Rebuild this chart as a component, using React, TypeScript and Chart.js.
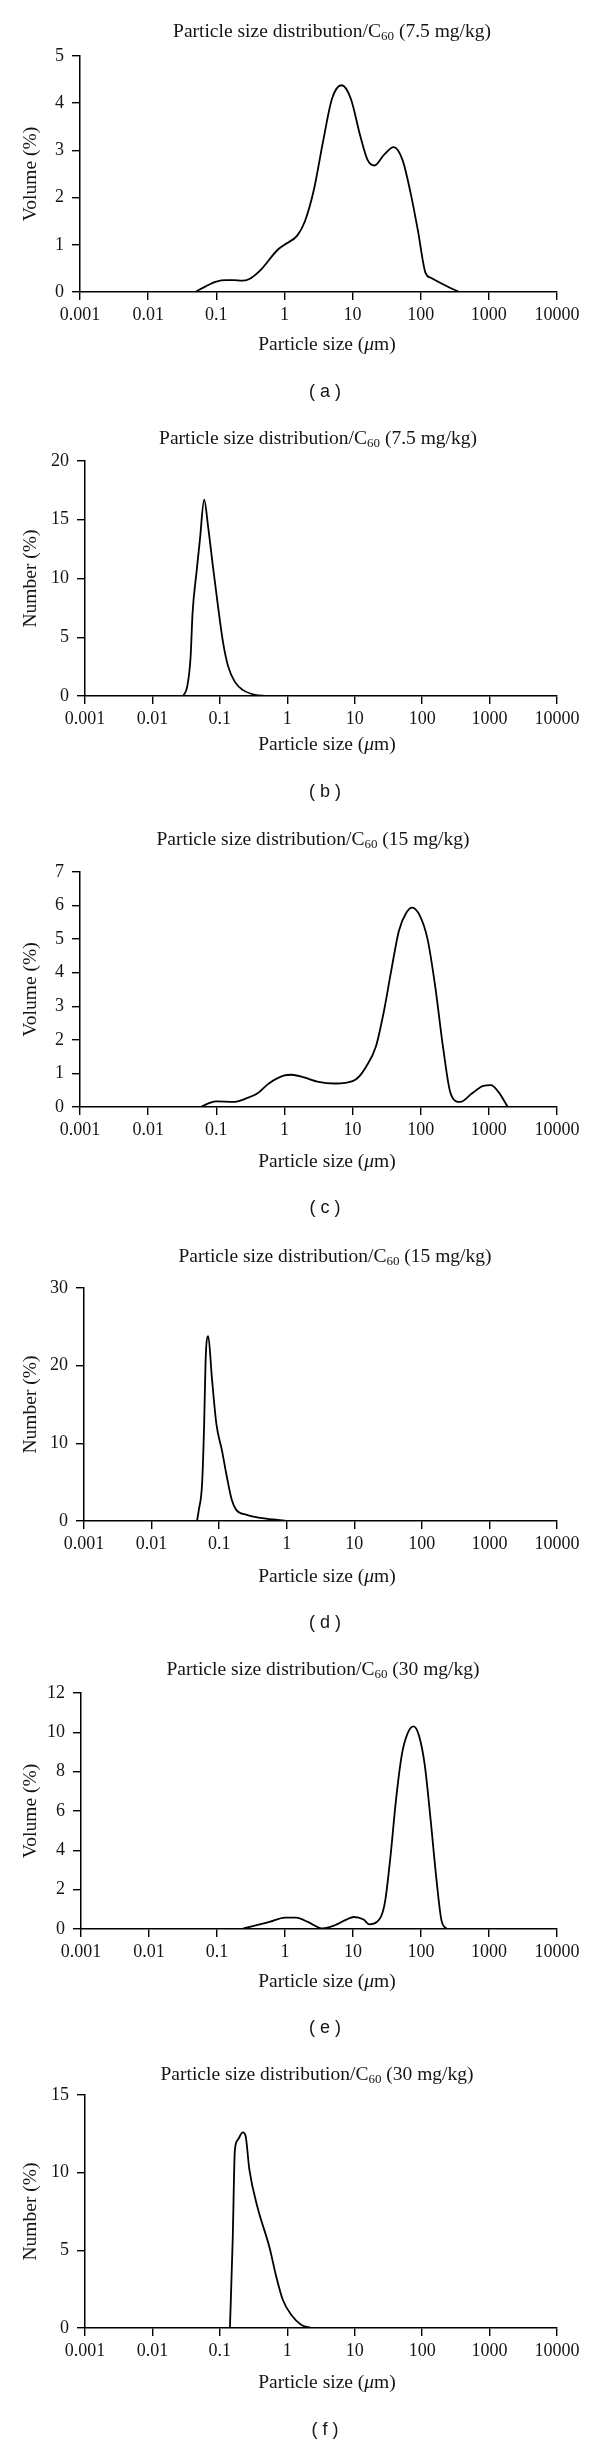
import React, { useEffect, useRef } from "react";
import { Chart, registerables } from "chart.js";

Chart.register(...registerables);

// ---------- data ----------
const xTickValues = [0.001, 0.01, 0.1, 1, 10, 100, 1000, 10000];
const xTickLabels = ["0.001", "0.01", "0.1", "1", "10", "100", "1000", "10000"];

const sizesA = [0.049, 0.07, 0.1, 0.14, 0.18, 0.24, 0.3, 0.45, 0.79, 1.0, 1.55, 2.0, 2.7, 3.7, 5.0, 6.9, 9.4, 13, 16.6, 21, 28.6, 40, 54, 71, 91, 118, 141, 277, 370];
const volumeA = [0, 0.12, 0.22, 0.25, 0.25, 0.24, 0.27, 0.47, 0.89, 1.0, 1.2, 1.5, 2.16, 3.2, 4.1, 4.38, 4.1, 3.3, 2.8, 2.68, 2.9, 3.07, 2.8, 2.1, 1.3, 0.4, 0.3, 0.08, 0];
const yTicksA = [0, 1, 2, 3, 4, 5];

const sizesB = [0.0286, 0.0328, 0.0368, 0.0394, 0.045, 0.0506, 0.0585, 0.067, 0.079, 0.094, 0.112, 0.133, 0.167, 0.221, 0.33, 0.49];
const numberB = [0, 0.8, 3.3, 7.1, 10.5, 13.3, 16.7, 14.4, 11, 7.6, 4.5, 2.5, 1.2, 0.5, 0.1, 0];
const yTicksB = [0, 5, 10, 15, 20];

const sizesC = [0.059, 0.08, 0.1, 0.18, 0.27, 0.4, 0.59, 1.0, 1.28, 1.88, 3.16, 5.3, 7.8, 11.5, 15.8, 22, 28.5, 37, 48, 62, 75, 97, 126, 163, 212, 275, 380, 562, 830, 1070, 1380, 1900];
const volumeC = [0, 0.12, 0.17, 0.15, 0.25, 0.4, 0.7, 0.94, 0.96, 0.89, 0.75, 0.7, 0.72, 0.84, 1.2, 1.8, 2.8, 4.07, 5.26, 5.8, 5.94, 5.7, 5.0, 3.6, 1.8, 0.4, 0.15, 0.4, 0.63, 0.65, 0.45, 0];
const yTicksC = [0, 1, 2, 3, 4, 5, 6, 7];

const sizesD = [0.047, 0.05, 0.056, 0.06, 0.063, 0.069, 0.078, 0.091, 0.11, 0.13, 0.154, 0.18, 0.256, 0.41, 0.63, 1.0];
const numberD = [0, 1.4, 4.9, 12.5, 20.6, 23.8, 18.5, 12.5, 9.1, 5.7, 2.7, 1.4, 0.8, 0.4, 0.2, 0];
const yTicksD = [0, 10, 20, 30];

const sizesE = [0.23, 0.59, 1.0, 1.47, 2.16, 3.6, 5.4, 8, 10.3, 14.3, 17.4, 22.5, 29.3, 35.6, 43, 52.5, 64, 77.6, 94, 114, 139, 169, 200, 240];
const volumeE = [0, 0.36, 0.58, 0.58, 0.36, 0.03, 0.19, 0.48, 0.61, 0.48, 0.24, 0.36, 1.3, 3.7, 6.6, 8.9, 9.97, 10.3, 9.8, 8.3, 5.5, 2.5, 0.44, 0];
const yTicksE = [0, 2, 4, 6, 8, 10, 12];

const sizesF = [0.141, 0.155, 0.167, 0.184, 0.218, 0.24, 0.274, 0.36, 0.544, 0.686, 0.86, 1.15, 1.62, 2.29];
const numberF = [0, 5.66, 11.45, 12.1, 12.6, 12.4, 10.2, 7.8, 5.2, 3.3, 1.8, 0.84, 0.2, 0];
const yTicksF = [0, 5, 10, 15];

const titlePrefix = "Particle size distribution/C";
const titleSub = "60";
const doses = ["(7.5 mg/kg)", "(7.5 mg/kg)", "(15 mg/kg)", "(15 mg/kg)", "(30 mg/kg)", "(30 mg/kg)"];
const yTitles = ["Volume (%)", "Number (%)", "Volume (%)", "Number (%)", "Volume (%)", "Number (%)"];
const captions = ["a", "b", "c", "d", "e", "f"];

const seriesList = [
  { sizes: sizesA, values: volumeA, yTicks: yTicksA },
  { sizes: sizesB, values: numberB, yTicks: yTicksB },
  { sizes: sizesC, values: volumeC, yTicks: yTicksC },
  { sizes: sizesD, values: numberD, yTicks: yTicksD },
  { sizes: sizesE, values: volumeE, yTicks: yTicksE },
  { sizes: sizesF, values: numberF, yTicks: yTicksF },
];

// ---------- layout (canvas-local px) ----------
const CANVAS_W = 584;
const PLOT_RIGHT = 549;
const layouts = [
  { h: 402, left: 72, top: 48, bottom: 284, titleX: 324, titleY: 24, axisTitleY: 337, captionY: 384 },
  { h: 410, left: 77, top: 51, bottom: 286, titleX: 310, titleY: 29, axisTitleY: 335, captionY: 382 },
  { h: 410, left: 72, top: 52, bottom: 287, titleX: 305, titleY: 20, axisTitleY: 342, captionY: 388 },
  { h: 415, left: 76, top: 58, bottom: 291, titleX: 327, titleY: 27, axisTitleY: 347, captionY: 393 },
  { h: 400, left: 73, top: 48, bottom: 284, titleX: 315, titleY: 25, axisTitleY: 337, captionY: 383 },
  { h: 401, left: 77, top: 50, bottom: 283, titleX: 309, titleY: 30, axisTitleY: 338, captionY: 385 },
];

const SERIF = "'Liberation Serif', 'Times New Roman', 'DejaVu Serif', serif";
const SANS = "'Liberation Sans', Arial, 'DejaVu Sans', sans-serif";
const INK = "#141414";
const TITLE_PX = 19.5;

const textPlugin = {
  id: "panelText",
  afterDraw(chart: any, _args: any, opts: any) {
    const { ctx, chartArea } = chart;
    ctx.save();
    ctx.fillStyle = INK;
    ctx.textBaseline = "middle";
    ctx.textAlign = "left";

    // title with subscript
    const big = `${TITLE_PX}px ${SERIF}`;
    const ital = `italic ${TITLE_PX}px ${SERIF}`;
    const small = `13px ${SERIF}`;
    ctx.font = big;
    const w1 = ctx.measureText(opts.prefix).width;
    const w3 = ctx.measureText(" " + opts.suffix).width;
    ctx.font = small;
    const w2 = ctx.measureText(opts.sub).width;
    let x = opts.titleX - (w1 + w2 + w3) / 2;
    ctx.font = big;
    ctx.fillText(opts.prefix, x, opts.titleY);
    x += w1;
    ctx.font = small;
    ctx.fillText(opts.sub, x, opts.titleY + 5);
    x += w2;
    ctx.font = big;
    ctx.fillText(" " + opts.suffix, x, opts.titleY);

    // x-axis title with italic mu
    const p1 = "Particle size (";
    const p2 = "\u03bc";
    const p3 = "m)";
    ctx.font = big;
    const a1 = ctx.measureText(p1).width;
    const a3 = ctx.measureText(p3).width;
    ctx.font = ital;
    const a2 = ctx.measureText(p2).width;
    let ax = opts.axisTitleX - (a1 + a2 + a3) / 2;
    ctx.font = big;
    ctx.fillText(p1, ax, opts.axisTitleY);
    ax += a1;
    ctx.font = ital;
    ctx.fillText(p2, ax, opts.axisTitleY);
    ax += a2;
    ctx.font = big;
    ctx.fillText(p3, ax, opts.axisTitleY);

    // caption
    ctx.font = `18px ${SANS}`;
    ctx.textAlign = "center";
    ctx.fillText(`( ${opts.caption} )`, opts.captionX, opts.captionY);

    // y-axis title
    ctx.translate(opts.yTitleX, (chartArea.top + chartArea.bottom) / 2);
    ctx.rotate(-Math.PI / 2);
    ctx.font = big;
    ctx.textAlign = "center";
    ctx.fillText(opts.yTitle, 0, 0);
    ctx.restore();
  },
};

function Panel({ idx }: { idx: number }) {
  const ref = useRef<HTMLCanvasElement | null>(null);
  const lay = layouts[idx];
  const s = seriesList[idx];

  useEffect(() => {
    if (!ref.current) return;
    const tickFont = { family: SERIF, size: 18 };
    const grid = {
      display: true,
      drawOnChartArea: false,
      drawTicks: true,
      tickLength: 8,
      color: "#000",
      lineWidth: 1.4,
    };
    const border = { display: true, color: "#000", width: 1.5 };
    const chart = new Chart(ref.current, {
      type: "line",
      data: {
        datasets: [
          {
            data: s.sizes.map((v, i) => ({ x: v, y: s.values[i] })),
            borderColor: "#000",
            borderWidth: 1.8,
            pointRadius: 0,
            fill: false,
            cubicInterpolationMode: "monotone",
          },
        ],
      },
      options: {
        responsive: false,
        maintainAspectRatio: false,
        animation: false,
        events: [],
        layout: {
          padding: {
            left: 0,
            right: CANVAS_W - PLOT_RIGHT,
            top: lay.top,
            bottom: lay.h - lay.bottom - 30,
          },
        },
        plugins: {
          legend: { display: false },
          tooltip: { enabled: false },
          title: { display: false },
          panelText: {
            prefix: titlePrefix,
            sub: titleSub,
            suffix: doses[idx],
            titleX: lay.titleX,
            titleY: lay.titleY,
            axisTitleX: 319,
            axisTitleY: lay.axisTitleY,
            caption: captions[idx],
            captionX: 317,
            captionY: lay.captionY,
            yTitle: yTitles[idx],
            yTitleX: 23,
          },
        } as any,
        scales: {
          x: {
            type: "logarithmic",
            min: 0.001,
            max: 10000,
            afterBuildTicks: (sc: any) => {
              sc.ticks = xTickValues.map((v) => ({ value: v }));
            },
            afterFit: (sc: any) => {
              sc.height = 30;
            },
            ticks: {
              autoSkip: false,
              maxRotation: 0,
              font: tickFont,
              color: INK,
              padding: 4,
              callback: (_v: any, i: number) => xTickLabels[i],
            },
            grid,
            border,
          },
          y: {
            type: "linear",
            min: s.yTicks[0],
            max: s.yTicks[s.yTicks.length - 1],
            afterBuildTicks: (sc: any) => {
              sc.ticks = s.yTicks.map((v) => ({ value: v }));
            },
            afterFit: (sc: any) => {
              sc.width = lay.left;
            },
            ticks: {
              font: tickFont,
              color: INK,
              padding: 8,
              callback: (v: any) => String(v),
            },
            grid,
            border,
          },
        },
      } as any,
      plugins: [textPlugin],
    });
    return () => chart.destroy();
  }, [idx]);

  return (
    <canvas
      ref={ref}
      width={CANVAS_W}
      height={lay.h}
      style={{ display: "block", width: CANVAS_W, height: lay.h }}
    />
  );
}

export default function App() {
  useEffect(() => {
    document.documentElement.style.overflow = "hidden";
    document.body.style.background = "#fff";
  }, []);
  return (
    <div style={{ background: "#fff" }}>
      {captions.map((_, i) => (
        <Panel key={i} idx={i} />
      ))}
    </div>
  );
}
